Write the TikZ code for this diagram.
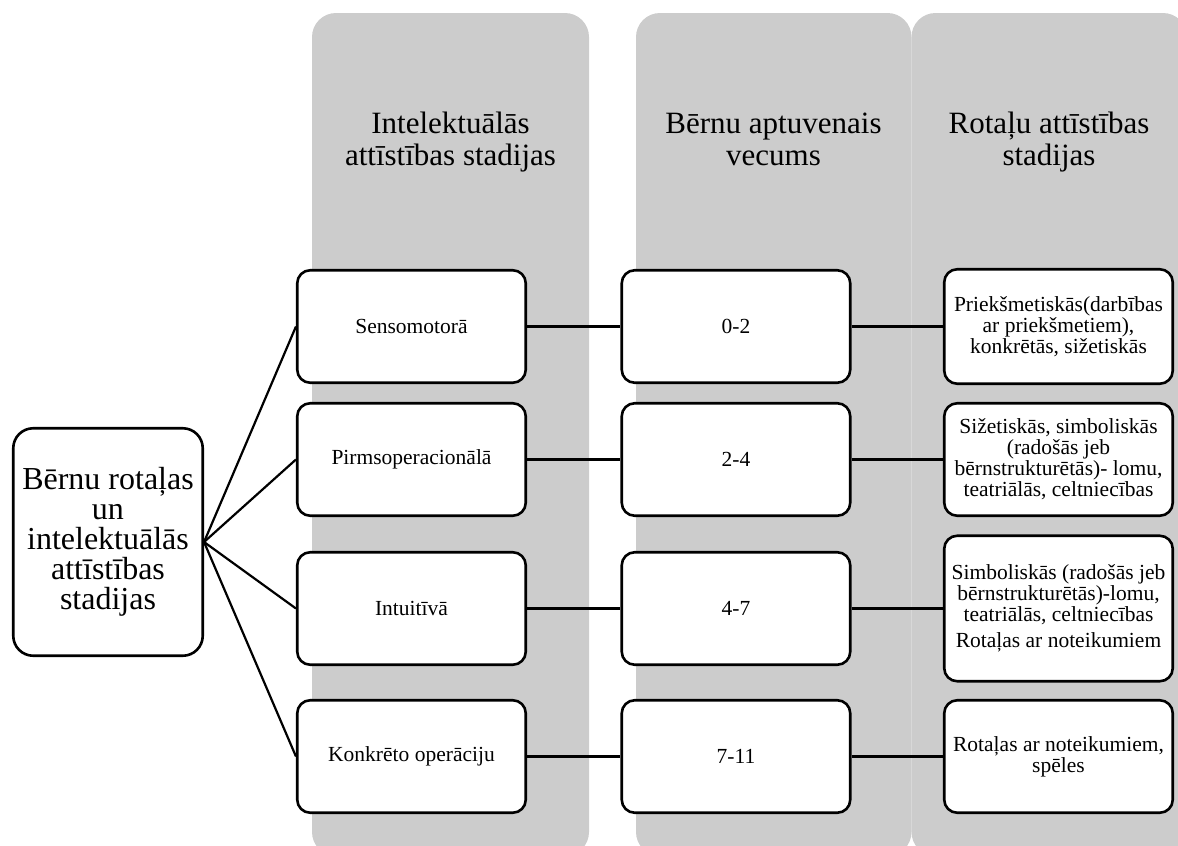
\documentclass[tikz,border=0pt]{standalone}
\usepackage{fontspec}
\setmainfont{Liberation Serif}
\definecolor{lanegray}{RGB}{204,204,204}
\begin{document}
\begin{tikzpicture}[x=1pt,y=-1pt,
  lane/.style={fill=lanegray, draw=none, rounded corners=24pt},
  hdr/.style={align=center, inner sep=0pt, font=\fontsize{31}{32}\selectfont},
  stagebox/.style={draw, line width=2.6pt, fill=white, rounded corners=13pt,
    minimum width=228.5pt, minimum height=112.5pt, align=center, inner sep=2pt,
    font=\fontsize{21.5}{21}\selectfont},
  rootbox/.style={draw, line width=2.6pt, fill=white, rounded corners=20pt,
    minimum width=189.5pt, minimum height=227.5pt, align=center, inner sep=2pt,
    font=\fontsize{32}{30}\selectfont},
  link/.style={line width=2.2pt}
]
\useasboundingbox (0,0) rectangle (1178,846);
\clip (0,0) rectangle (1178,846);
% background lanes
\fill[lane] (312,13) rectangle (589,856);
\fill[lane] (636,13) rectangle (911.5,856);
\fill[lane] (911.5,13) rectangle (1187,856);
% headers
\node[hdr] (h1) at (450.5,142.6) {\strut Intelektuālās\\attīstības stadijas\strut};
\node[hdr] (h2) at (773.5,142.6) {\strut Bērnu aptuvenais\\vecums\strut};
\node[hdr] (h3) at (1049,142.6) {\strut Rotaļu attīstības\\stadijas\strut};
% root
\node[rootbox] (root) at (108,542) {Bērnu rotaļas\\un\\intelektuālās\\attīstības\\stadijas};
% column 1
\node[stagebox] (a1) at (411.5,326.5) {Sensomotorā};
\node[stagebox] (a2) at (411.5,459.5) {Pirmsoperacionālā};
\node[stagebox] (a3) at (411.5,608.5) {Intuitīvā};
\node[stagebox] (a4) at (411.5,756.5) {Konkrēto operāciju};
% column 2
\node[stagebox] (b1) at (736,326.5) {0-2};
\node[stagebox] (b2) at (736,459.5) {2-4};
\node[stagebox] (b3) at (736,608.5) {4-7};
\node[stagebox] (b4) at (736,756.5) {7-11};
% column 3
\node[stagebox, minimum height=114.5pt] (c1) at (1058.5,326.5) {Priekšmetiskās(darbības\\ar priekšmetiem),\\konkrētās, sižetiskās};
\node[stagebox] (c2) at (1058.5,459.5) {Sižetiskās, simboliskās\\(radošās jeb\\bērnstrukturētās)- lomu,\\teatriālās, celtniecības};
\node[stagebox, minimum height=145.5pt] (c3) at (1058.5,608.5) {Simboliskās (radošās jeb\\bērnstrukturētās)-lomu,\\teatriālās, celtniecības\\[5pt]Rotaļas ar noteikumiem};
\node[stagebox] (c4) at (1058.5,756.5) {Rotaļas ar noteikumiem,\\spēles};
% connectors
\foreach \i in {1,2,3,4} {
  \draw[link] (root.east) -- (a\i.west);
  \draw[link] (a\i.east) -- (b\i.west);
  \draw[link] (b\i.east) -- (c\i.west);
}
\end{tikzpicture}
\end{document}
